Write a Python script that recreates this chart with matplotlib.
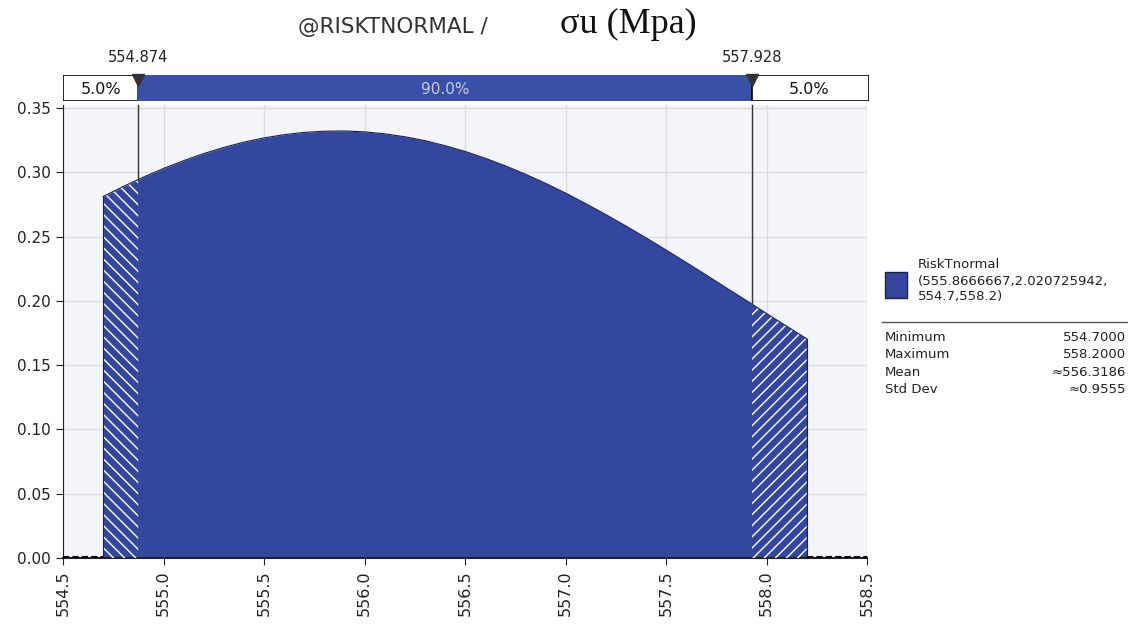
import matplotlib
matplotlib.use("Agg")
import matplotlib.pyplot as plt
from matplotlib.patches import Rectangle
import numpy as np

# ---- data ----
x_vals = [554.7, 554.8, 554.874, 554.9, 555.0, 555.1, 555.2, 555.3, 555.4, 555.5, 555.6,
          555.7, 555.8, 555.9, 556.0, 556.1, 556.2, 556.3, 556.4, 556.5, 556.6,
          556.7, 556.8, 556.9, 557.0, 557.1, 557.2, 557.3, 557.4, 557.5, 557.6,
          557.7, 557.8, 557.9, 557.928, 558.0, 558.1, 558.2]
density = [0.2813, 0.2891, 0.2945, 0.2964, 0.3031, 0.3092, 0.3147, 0.3195, 0.3236, 0.3269, 0.3294,
           0.3312, 0.3321, 0.3323, 0.3316, 0.3301, 0.3278, 0.3248, 0.3209, 0.3164, 0.3111,
           0.3052, 0.2987, 0.2916, 0.2840, 0.2758, 0.2673, 0.2584, 0.2492, 0.2397, 0.2300,
           0.2202, 0.2102, 0.2003, 0.1975, 0.1903, 0.1804, 0.1706]
lower_cut = 554.874
upper_cut = 557.928
band_labels = ["5.0%", "90.0%", "5.0%"]
x_ticks = [554.5, 555.0, 555.5, 556.0, 556.5, 557.0, 557.5, 558.0, 558.5]
y_ticks = [0.00, 0.05, 0.10, 0.15, 0.20, 0.25, 0.30, 0.35]
legend_name = "RiskTnormal"
legend_params = "(555.8666667,2.020725942,\n554.7,558.2)"
stat_names = ["Minimum", "Maximum", "Mean", "Std Dev"]
stat_values = ["554.7000", "558.2000", "≈556.3186", "≈0.9555"]

BLUE = "#33479e"
BAR_BLUE = "#3a4fa8"
BG = "#f4f5f8"
GRID = "#dcdcdc"

plt.rcParams["font.family"] = ["DejaVu Sans"]
plt.rcParams["hatch.linewidth"] = 1.0

fig = plt.figure(figsize=(11.28, 6.28), dpi=100)
ax = fig.add_axes([63 / 1128, 1 - 558 / 628, (867 - 63) / 1128, (558 - 105) / 628])

xv = np.array(x_vals)
yv = np.array(density)
ax.set_facecolor(BG)
ax.set_xlim(554.5, 558.5)
ax.set_ylim(0, 0.3525)

ax.fill_between(xv, 0, yv, color=BLUE, linewidth=0, zorder=2)
left_mask = xv <= lower_cut
right_mask = xv >= upper_cut
ax.fill_between(xv[left_mask], 0, yv[left_mask], facecolor="none", edgecolor="white",
                hatch="\\\\\\", linewidth=0, zorder=3)
ax.fill_between(xv[right_mask], 0, yv[right_mask], facecolor="none", edgecolor="white",
                hatch="///", linewidth=0, zorder=3)
ax.plot(xv, yv, color="#1a2250", lw=0.8, zorder=4)
ax.plot([x_vals[0], x_vals[0]], [0, density[0]], color="#1a2250", lw=0.8, zorder=4)
ax.plot([x_vals[-1], x_vals[-1]], [0, density[-1]], color="#1a2250", lw=0.8, zorder=4)
ax.plot([554.5, x_vals[0]], [0.0008, 0.0008], color="black", lw=1.5, ls=(0, (3, 1.5)), zorder=4)
ax.plot([x_vals[-1], 558.5], [0.0008, 0.0008], color="black", lw=1.5, ls=(0, (3, 1.5)), zorder=4)

# cut lines (from the band down to the curve)
y_top = ax.get_ylim()[1]
for c in [lower_cut, upper_cut]:
    yc = density[x_vals.index(c)]
    ax.plot([c, c], [yc, y_top], color="#333333", lw=1.0, zorder=5, clip_on=False)

ax.set_xticks(x_ticks)
ax.set_xticklabels([f"{t:.1f}" for t in x_ticks], rotation=90, fontsize=11.5, color="#222222")
ax.set_yticks(y_ticks)
ax.set_yticklabels([f"{t:.2f}" for t in y_ticks], fontsize=11, color="#222222")
ax.grid(True, color=GRID, lw=1.0, zorder=0)
ax.set_axisbelow(True)
for s in ["top", "right"]:
    ax.spines[s].set_visible(False)
ax.spines["left"].set_color("#222222")
ax.spines["bottom"].set_color("#222222")
ax.spines["bottom"].set_linewidth(1.5)
ax.tick_params(axis="both", length=5, color="#222222", pad=4)

# top band
bx = fig.add_axes([63 / 1128, 1 - 101 / 628, (869 - 63) / 1128, 26 / 628])
x_end = 558.5 + (2 / 804) * 4
bx.set_xlim(554.5, x_end)
bx.set_ylim(0, 1)
bx.axis("off")
bx.add_patch(Rectangle((554.5, 0), lower_cut - 554.5, 1, facecolor="white", edgecolor="black", lw=1.2))
bx.add_patch(Rectangle((lower_cut, 0), upper_cut - lower_cut, 1, facecolor=BAR_BLUE, edgecolor=BAR_BLUE, lw=1.2))
bx.add_patch(Rectangle((upper_cut, 0), x_end - upper_cut, 1, facecolor="white", edgecolor="black", lw=1.2))
bx.text((554.5 + lower_cut) / 2, 0.45, band_labels[0], ha="center", va="center", fontsize=11.5, color="#111111")
bx.text((lower_cut + upper_cut) / 2, 0.45, band_labels[1], ha="center", va="center", fontsize=11, color="#c8cce0")
bx.text((upper_cut + 558.5) / 2, 0.45, band_labels[2], ha="center", va="center", fontsize=11.5, color="#111111")
for c in [lower_cut, upper_cut]:
    bx.plot([c], [0.82], marker="v", markersize=9, color="#333333", clip_on=False)
    bx.text(c, 1.4, f"{c:.3f}", ha="center", va="bottom", fontsize=10.5, color="#222222")

# title
fig.text(488 / 1128, 1 - 27 / 628, "@RISKTNORMAL /", ha="right", va="center", fontsize=15.5, color="#333333")
fig.text(560 / 1128, 1 - 24 / 628, "σu (Mpa)", ha="left", va="center", fontsize=26,
         family=["Liberation Serif", "DejaVu Serif"], color="#111111")

# legend
fig.patches.append(Rectangle((885 / 1128, 1 - 298 / 628), 22 / 1128, 26 / 628, transform=fig.transFigure,
                             facecolor=BLUE, edgecolor="#1a2250", lw=1.0))
fig.text(918 / 1128, 1 - 265 / 628, legend_name, ha="left", va="center", fontsize=9.5, color="#222222")
fig.text(918 / 1128, 1 - 289 / 628, legend_params, ha="left", va="center", fontsize=9.5, color="#222222",
         linespacing=1.15)
fig.add_artist(plt.Line2D([882 / 1128, 1128 / 1128], [1 - 322 / 628, 1 - 322 / 628], color="#555555", lw=1.0))
for i, (n, v) in enumerate(zip(stat_names, stat_values)):
    yy = 1 - (337 + i * 17.5) / 628
    fig.text(885 / 1128, yy, n, ha="left", va="center", fontsize=9.5, color="#222222")
    fig.text(1126 / 1128, yy, v, ha="right", va="center", fontsize=9.5, color="#222222")

fig.savefig("out.png", dpi=100, facecolor="white")
